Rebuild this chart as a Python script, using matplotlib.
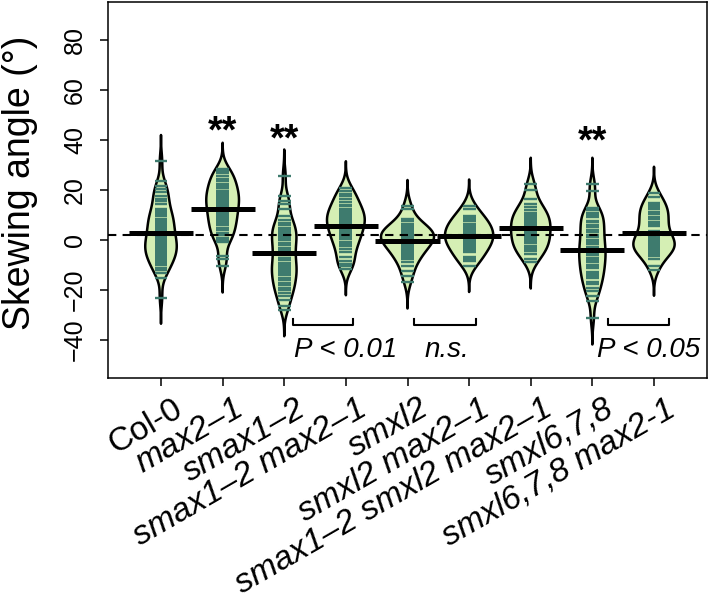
import numpy as np
import matplotlib.pyplot as plt
from matplotlib.transforms import ScaledTranslation

plt.rcParams['font.family'] = ['Liberation Sans', 'DejaVu Sans']

# genotypes (x axis)
groups = ['Col-0', 'max2–1', 'smax1–2', 'smax1–2 max2–1', 'smxl2',
          'smxl2 max2–1', 'smax1–2 smxl2 max2–1', 'smxl6,7,8',
          'smxl6,7,8 max2-1']
italic = [False, True, True, True, True, True, True, True, True]

# skewing angles (degrees)
col0 = [31.5, 23.5, 21.5, 20.4, 19.3, 17.5, 16.5, 15.8, 14.5, 12.5, 11.8, 11,
        10.2, 9.5, 8.6, 8, 7.2, 6.5, 5.8, 5, 4.2, 3.6, 3, 2.2, 1.5, 0.8, -0.1,
        -0.5, -1.2, -1.6, -2, -2.8, -3.5, -3.9, -4.2, -5, -5.8, -6.5, -6.8,
        -7.4, -8.2, -9, -10, -11, -12, -13, -15, -23]
max2 = [28.4, 27.5, 26.8, 25.5, 24.6, 23.8, 22.5, 21.6, 21, 20.8, 19.5, 18.8,
        18, 17.2, 16.4, 16, 15.6, 14.8, 14, 13.2, 12.4, 11.6, 10.8, 10, 9.2,
        8.4, 7.6, 6.8, 6, 5, 4, 3, 2, 1, 0, -0.8, -6.5, -7.6, -10.5]
smax1 = [25.7, 17.7, 15.7, 14.4, 12.4, 9.5, 8, 7, 6, 5, 4, 3.2, 2.4, 1.6, 0.8,
         0, -1, -2, -3, -4, -5, -6, -7, -8, -9, -10, -10.8, -11.6, -12.4,
         -13.2, -14, -15, -16, -17, -18, -19, -20, -21, -22.5, -24, -26.3, -28]
smax1_max2 = [21, 19.8, 18.4, 17.5, 16.4, 15.2, 14, 13.6, 12.4, 12, 11.5, 10.8,
              10, 9.2, 8.5, 8, 7.8, 7.1, 6.4, 5.7, 5, 4.3, 3.6, 2.8, 2, 1.2,
              0.4, -0.6, -1.5, -2.5, -3.6, -4.8, -6.8, -8.3, -9.5, -10.3, -11.6]
smxl2 = [13.5, 12.4, 8.4, 7.5, 6.5, 5.7, 5.1, 4.5, 4.2, 3.7, 3.3, 3, 2.3, 2,
         1.6, 1.3, 1, 0.6, 0.3, 0, -0.4, -1, -1.7, -2.4, -3, -3.7, -4.4, -5,
         -5.8, -6.6, -7.6, -8.8, -10.3, -12.3, -14.3, -16.9]
smxl2_max2 = [13.7, 12.4, 9.7, 9, 8.4, 7.7, 6.4, 5.7, 5, 4.3, 3.6, 3, 2.3, 1.7,
              1, 0.4, -0.3, -1, -1.7, -2.5, -3.3, -4, -4.8, -6.8, -7.6, -8.3,
              -10.3]
triple = [22.4, 20, 16.4, 14.4, 13.2, 12, 11, 10.2, 9.4, 8.6, 7.8, 7, 6.2, 5.4,
          4.6, 3.8, 3, 2.2, 1.4, 0.6, -0.2, -1.2, -2.3, -2.8, -3.6, -4.5, -5.6,
          -7.6, -8.9]
smxl678 = [22.4, 19.7, 13.0, 12.1, 10.8, 10.1, 9.2, 7.8, 7.1, 5.9, 5.2, 4.1,
           3.3, 1.9, 1.2, 0.2, -0.9, -1.7, -2.8, -3.6, -4.3, -5.2, -5.9, -7.1,
           -7.8, -8.6, -9.8, -10.5, -11.3, -12.6, -13.4, -14.5, -15.3, -16.8,
           -17.6, -19.2, -20.5, -22.3, -24.3, -31.3]
smxl678_max2 = [18.8, 17.1, 15, 14, 13.2, 12.4, 11.2, 10.3, 9.2, 8.3, 7.4, 6.5,
                5.7, 3.6, 2.9, 2.1, 1.4, 0.6, -0.2, -1, -1.4, -1.8, -2.6, -3,
                -3.4, -4.2, -4.9, -5.5, -6.3, -7.6, -10.3, -11.8]

data = [col0, max2, smax1, smax1_max2, smxl2, smxl2_max2, triple, smxl678,
        smxl678_max2]

# significance marks and comparisons
stars_x = [2, 3, 8]
stars_y = [43.2, 40.0, 39.0]
brackets = [(3.14, 4.12), (5.11, 6.11), (8.26, 9.25)]
pvals = ['P < 0.01', 'n.s.', 'P < 0.05']
pval_x = [3.99, 5.64, 8.91]

fill_col = '#d5efb4'
line_col = '#3e7b6e'
bw = 3.5

fig = plt.figure(figsize=(7.09, 6.10), dpi=100)
ax = fig.add_axes([108/709, 1-378/610, 599/709, 376/610])

# kernel density for each bean (same bandwidth for all)
dens = []
for vals in data:
    v = np.array(vals)
    g = np.linspace(v.min()-3*bw, v.max()+3*bw, 512)
    d = np.exp(-0.5*((g[:, None]-v[None, :])/bw)**2).sum(1)/(len(v)*bw*np.sqrt(2*np.pi))
    dens.append((g, d))
scale = 0.43/max(d.max() for g, d in dens)

for i, (vals, (g, d)) in enumerate(zip(data, dens)):
    x = i+1
    w = d*scale
    ax.fill(np.r_[x-w, (x+w)[::-1]], np.r_[g, g[::-1]], facecolor=fill_col,
            edgecolor='black', lw=1.8, joinstyle='round', zorder=2)
    ax.hlines(vals, x-0.105, x+0.105, color=line_col, lw=1.7, zorder=3)
    ax.hlines(np.mean(vals), x-0.52, x+0.52, color='black', lw=3.6, zorder=5)

overall = np.mean(np.concatenate([np.array(v) for v in data]))
ax.axhline(overall, color='black', lw=1.5, ls=(0, (4, 3)), zorder=4)

for x, y in zip(stars_x, stars_y):
    ax.text(x, y, '**', ha='center', va='center', fontsize=27, fontweight='bold')
for (x0, x1), txt, tx in zip(brackets, pvals, pval_x):
    ax.plot([x0, x0, x1, x1], [-31.6, -34, -34, -31.6], color='black', lw=1.5)
    ax.text(tx, -46.8, txt, ha='center', va='baseline', fontsize=20, style='italic')

ax.set_xlim(0.14, 9.86)
ax.set_ylim(-55.2, 95.2)
ax.set_yticks([-40, -20, 0, 20, 40, 60, 80])
ax.set_xticks(range(1, 10))
ax.set_xticklabels([])
ax.tick_params(axis='y', length=6, width=1.1, labelsize=18, labelrotation=90, pad=9)
ax.tick_params(axis='x', length=6, width=1.1)
for s in ax.spines.values():
    s.set_linewidth(1.1)
for t in ax.get_yticklabels():
    t.set_va('center')

off = ScaledTranslation(11/100, -15/100, fig.dpi_scale_trans)
for i, lab in enumerate(groups):
    ax.text(i+1, 0, lab, transform=ax.get_xaxis_transform()+off, rotation=30,
            ha='right', va='top', rotation_mode='anchor', fontsize=24,
            style='italic' if italic[i] else 'normal')

fig.text(20/709, 1-183/610, 'Skewing angle (°)', rotation=90, ha='center',
         va='center', fontsize=27)

fig.savefig('out.png', dpi=100)
